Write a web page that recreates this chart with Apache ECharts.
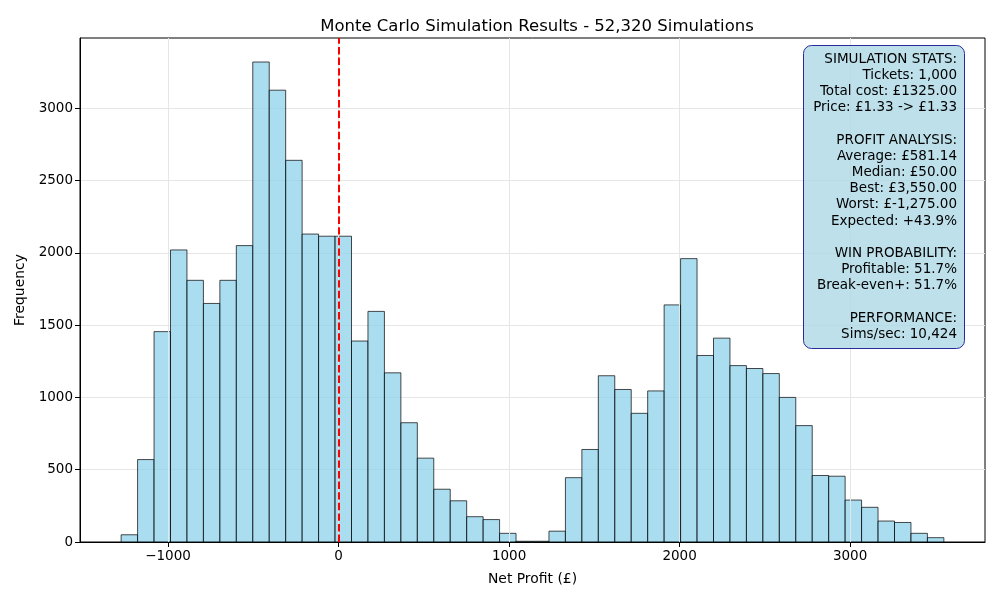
<!DOCTYPE html>
<html>
<head>
<meta charset="utf-8">
<script src="https://cdn.jsdelivr.net/npm/echarts@6/dist/echarts.min.js"></script>
<style>
  html, body { margin: 0; padding: 0; background: #fff; }
  #chart { width: 1000px; height: 600px; }
</style>
</head>
<body>
<div id="chart"></div>
<script>
// histogram: 50 equal bins between worst and best outcome
const binMin = -1275;
const binMax = 3550;
const counts = [
  50, 570, 1455, 2020, 1810, 1650, 1810, 2050, 3320, 3125,
  2640, 2130, 2115, 2115, 1390, 1595, 1170, 825, 580, 365,
  285, 175, 155, 60, 5, 5, 75, 445, 640, 1150,
  1055, 890, 1045, 1640, 1960, 1290, 1410, 1220, 1200, 1165,
  1000, 805, 460, 455, 290, 240, 145, 135, 60, 30
];
const xTicks = [-1000, 0, 1000, 2000, 3000];
const yTicks = [0, 500, 1000, 1500, 2000, 2500, 3000];
const breakEven = 0;

const statsLines = [
  'SIMULATION STATS:',
  'Tickets: 1,000',
  'Total cost: £1325.00',
  'Price: £1.33 -> £1.33',
  '',
  'PROFIT ANALYSIS:',
  'Average: £581.14',
  'Median: £50.00',
  'Best: £3,550.00',
  'Worst: £-1,275.00',
  'Expected: +43.9%',
  '',
  'WIN PROBABILITY:',
  'Profitable: 51.7%',
  'Break-even+: 51.7%',
  '',
  'PERFORMANCE:',
  'Sims/sec: 10,424'
];

const binWidth = (binMax - binMin) / counts.length;
const bins = counts.map((c, i) => [binMin + i * binWidth, binMin + (i + 1) * binWidth, c]);

// matplotlib-style 5% margins
const xPad = (binMax - binMin) * 0.05;
const yMax = Math.max(...counts) * 1.05;

const font = 'DejaVu Sans';
const minus = v => String(v).replace('-', '\u2212');

const lineH = 16.2;
const boxTop = 45;
const textRight = 957;

const chart = echarts.init(document.getElementById('chart'));
chart.setOption({
  animation: false,
  textStyle: { fontFamily: font },
  title: {
    text: 'Monte Carlo Simulation Results - 52,320 Simulations',
    left: 532, top: 13, textAlign: 'center',
    textStyle: { fontFamily: font, fontSize: 16.5, fontWeight: 'normal', color: '#000' }
  },
  grid: {
    left: 80, right: 15, top: 38, bottom: 58,
    show: true, borderColor: '#000', borderWidth: 1
  },
  xAxis: {
    type: 'value',
    min: binMin - xPad, max: binMax + xPad,
    name: 'Net Profit (£)', nameLocation: 'middle', nameGap: 30,
    nameTextStyle: { fontFamily: font, fontSize: 13.9, color: '#000' },
    axisLine: { show: true, onZero: false, lineStyle: { color: '#000', width: 1 } },
    axisTick: { show: true, customValues: xTicks, length: 5, lineStyle: { color: '#000', width: 1 } },
    axisLabel: { customValues: xTicks, formatter: minus, fontFamily: font, fontSize: 13.5, color: '#000', margin: 7 },
    splitLine: { show: false }
  },
  yAxis: {
    type: 'value',
    min: 0, max: yMax, interval: 500,
    name: 'Frequency', nameLocation: 'middle', nameGap: 52, nameRotate: 90,
    nameTextStyle: { fontFamily: font, fontSize: 13.9, color: '#000' },
    axisLine: { show: true, onZero: false, lineStyle: { color: '#000', width: 1 } },
    axisTick: { show: true, customValues: yTicks, length: 5, lineStyle: { color: '#000', width: 1 } },
    axisLabel: { customValues: yTicks, formatter: v => String(v), fontFamily: font, fontSize: 13.5, color: '#000', margin: 7 },
    splitLine: { show: true, lineStyle: { color: '#e6e6e6', width: 1 } }
  },
  series: [
    {
      // vertical grid lines
      type: 'line', data: [], silent: true, z: 1,
      markLine: {
        silent: true, symbol: 'none', animation: false,
        label: { show: false },
        lineStyle: { color: '#e6e6e6', width: 1, type: 'solid' },
        data: xTicks.map(v => ({ xAxis: v }))
      }
    },
    {
      type: 'custom', z: 2,
      encode: { x: [0, 1], y: 2 },
      data: bins,
      renderItem: (params, api) => {
        const p0 = api.coord([api.value(0), api.value(2)]);
        const p1 = api.coord([api.value(1), 0]);
        return {
          type: 'rect',
          shape: { x: p0[0], y: p0[1], width: p1[0] - p0[0], height: p1[1] - p0[1] },
          style: { fill: 'rgba(135,206,235,0.7)', stroke: 'rgba(0,0,0,0.7)', lineWidth: 1 }
        };
      }
    },
    {
      // break-even line
      type: 'line', data: [], silent: true, z: 5,
      markLine: {
        silent: true, symbol: 'none', animation: false,
        label: { show: false },
        lineStyle: { color: '#ff0000', width: 2, type: [7.4, 3.2] },
        data: [{ xAxis: breakEven }]
      }
    }
  ],
  graphic: [
    {
      type: 'rect', z: 10,
      shape: { x: 803.5, y: boxTop + 0.5, width: 161, height: 303, r: 8 },
      style: { fill: 'rgba(173,216,230,0.8)', stroke: '#2a2a9a', lineWidth: 1 }
    }
  ].concat(statsLines.map((t, i) => ({
    type: 'text', z: 20,
    x: textRight, y: boxTop + 14 + i * lineH,
    style: {
      text: t, fontFamily: font, fontSize: 13.5, fill: '#000',
      align: 'right', textAlign: 'right',
      verticalAlign: 'middle', textVerticalAlign: 'middle'
    }
  })))
});
</script>
</body>
</html>
